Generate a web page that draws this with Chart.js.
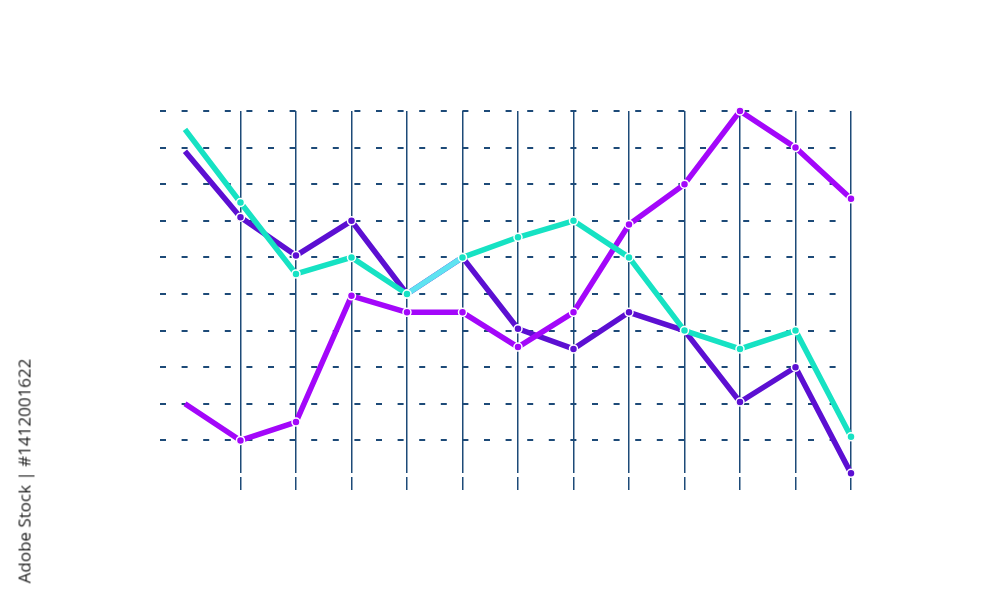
<!DOCTYPE html>
<html>
<head>
<meta charset="utf-8">
<script src="https://cdn.jsdelivr.net/npm/chart.js@4/dist/chart.umd.min.js"></script>
<style>
  html, body { margin: 0; padding: 0; background: #fff; }
  #wrap { position: relative; width: 1000px; height: 600px; }
  #credit {
    position: absolute; left: 24px; top: 471px;
    transform: translate(-50%, -50%) rotate(-90deg);
    white-space: nowrap; font: 500 17px 'Open Sans', sans-serif; color: #1e1e1e;
  }
</style>
</head>
<body>
<div id="wrap">
  <canvas id="myChart" width="1000" height="600"></canvas>
  <div id="credit">Adobe Stock | #1412001622</div>
</div>
<script>
// values, one per column (13 columns)
const tealSeries   = [9.5, 7.5, 5.55, 6.0, 5.0, 6.0, 6.55, 7.0, 6.0, 4.0, 3.5, 4.0, 1.1];
const violetSeries = [2.0, 1.0, 1.5, 4.95, 4.5, 4.5, 3.55, 4.5, 6.9, 8.0, 10.0, 9.0, 7.6];
const purpleSeries = [8.9, 7.1, 6.05, 7.0, 5.0, 6.0, 4.05, 3.5, 4.5, 4.0, 2.05, 3.0, 0.1];

const xGridTicks = [1, 2, 3, 4, 5, 6, 7, 8, 9, 10, 11, 12];
const yGridTicks = [1, 2, 3, 4, 5, 6, 7, 8, 9, 10];

const gridColor = '#1d4a78';

function toPoints(arr) {
  return arr.map((v, i) => ({ x: i, y: v }));
}

function makeSet(arr, color, extra) {
  return Object.assign({
    data: toPoints(arr),
    borderColor: color,
    backgroundColor: color,
    borderWidth: 5.5,
    borderJoinStyle: 'round',
    tension: 0,
    pointRadius: ctx => ctx.dataIndex === 0 ? 0 : 4,
    pointBackgroundColor: color,
    pointBorderColor: '#ffffff',
    pointBorderWidth: 1.5,
    clip: false
  }, extra || {});
}

const ctx = document.getElementById('myChart').getContext('2d');

new Chart(ctx, {
  type: 'line',
  data: {
    datasets: [
      makeSet(tealSeries, '#16e2c3', {
        // where it lies on top of the purple line it turns light cyan
        segment: { borderColor: s => s.p0DataIndex === 4 ? '#5ee3f1' : undefined }
      }),
      makeSet(violetSeries, '#a307fa'),
      makeSet(purpleSeries, '#5c0fd2')
    ]
  },
  options: {
    responsive: false,
    animation: false,
    layout: { padding: { left: 160, right: 149, top: 111, bottom: 110 } },
    plugins: { legend: { display: false }, tooltip: { enabled: false } },
    scales: {
      x: {
        type: 'linear',
        min: -0.45,
        max: 12,
        afterBuildTicks: scale => { scale.ticks = xGridTicks.map(v => ({ value: v })); },
        ticks: { display: false },
        border: { display: false },
        grid: {
          color: gridColor,
          lineWidth: 1.5,
          drawTicks: true,
          tickLength: 17,
          tickBorderDash: [0, 4, 13, 0]
        }
      },
      y: {
        min: 0.11,
        max: 10,
        afterBuildTicks: scale => { scale.ticks = yGridTicks.map(v => ({ value: v })); },
        ticks: { display: false },
        border: { display: false, dash: [6, 15.6] },
        grid: {
          color: gridColor,
          lineWidth: 2,
          drawTicks: false
        }
      }
    }
  }
});
</script>
</body>
</html>
